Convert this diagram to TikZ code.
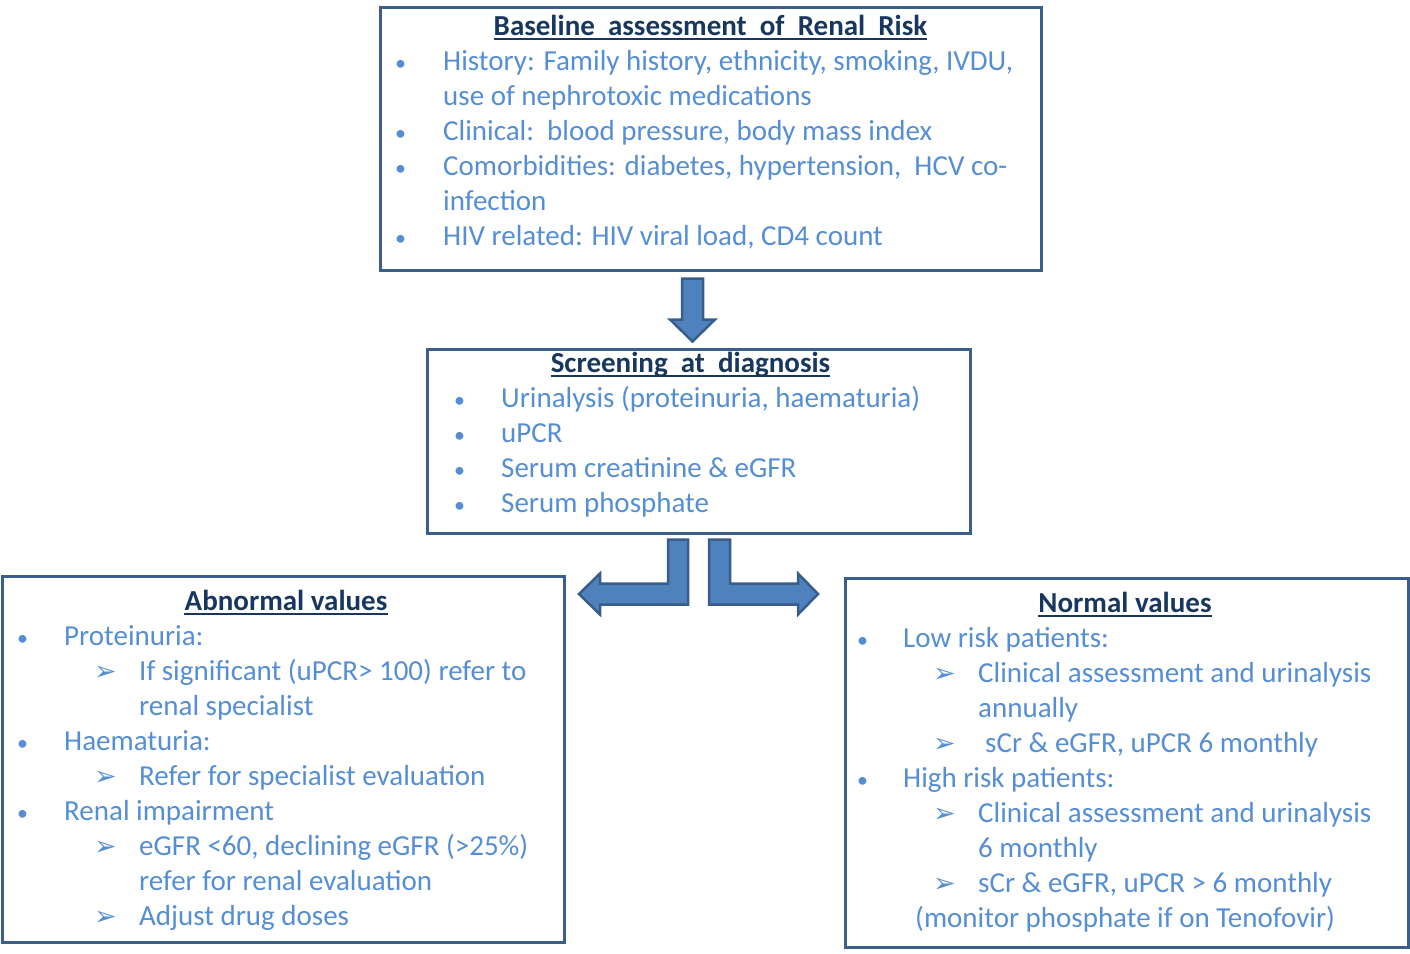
\documentclass[tikz,border=0pt]{standalone}
\usepackage{fontspec}
\setmainfont{Carlito}
\newfontfamily\dingfont{DejaVu Sans}
\usepackage{tikz}
\usetikzlibrary{calc}

\definecolor{boxline}{HTML}{3B5E8C}
\definecolor{bodyblue}{HTML}{558ED5}
\definecolor{headnavy}{HTML}{17375E}
\definecolor{arrowfill}{HTML}{4F81BD}
\definecolor{arrowline}{HTML}{385D8A}

\begin{document}
\begin{tikzpicture}[
        x=1pt, y=-1pt,
        panel/.style={rectangle, draw=boxline, line width=3pt, inner sep=0pt},
        head/.style={anchor=base, inner sep=0pt, text=headnavy, font=\fontsize{29}{35}\selectfont\bfseries},
        rule/.style={draw=headnavy, line width=2pt},
        txt/.style={anchor=base west, inner sep=0pt, text=bodyblue, font=\fontsize{29}{35}\selectfont},
        dot/.style={anchor=base west, inner sep=0pt, text=bodyblue, font=\fontsize{22}{26}\selectfont},
        tip/.style={anchor=base west, inner sep=0pt, text=bodyblue, font=\dingfont\fontsize{27}{30}\selectfont},
        blockarrow/.style={fill=arrowfill, draw=arrowline, line width=2.5pt, line join=miter}
    ]
        \useasboundingbox (0,0) rectangle (1410,953);

        % Boxes
        \node[panel, minimum width=661pt, minimum height=263pt] (base) at (710.5,138.5) {};
        \node[panel, minimum width=543pt, minimum height=184pt] (screen) at (698.5,441) {};
        \node[panel, minimum width=562pt, minimum height=366pt] (abnormal) at (283,759) {};
        \node[panel, minimum width=563pt, minimum height=369pt] (normal) at (1126.5,762.5) {};

        % Baseline assessment
        \node[head] (basehead) at (710.5,35) {Baseline\ \ assessment\ \ of\ \ Renal\ \ Risk};
        \node[dot] (b1) at (395,70) {•};
        \node[txt] (t1) at (443,70) {History: Family history, ethnicity, smoking, IVDU,};
        \node[txt] (t1b) at (443,105) {use of nephrotoxic medications};
        \node[dot] (b2) at (395,140) {•};
        \node[txt] (t2) at (443,140) {Clinical:\ \ blood pressure, body mass index};
        \node[dot] (b3) at (395,175) {•};
        \node[txt] (t3) at (443,175) {Comorbidities: diabetes, hypertension,\ \ HCV co-};
        \node[txt] (t3b) at (443,210) {infection};
        \node[dot] (b4) at (395,245) {•};
        \node[txt] (t4) at (443,245) {HIV related: HIV viral load, CD4 count};

        % Screening
        \node[head] (screenhead) at (690.5,372) {Screening\ \ at\ \ diagnosis};
        \node[dot] (s1) at (454,407) {•};
        \node[txt] (u1) at (501,407) {Urinalysis (proteinuria, haematuria)};
        \node[dot] (s2) at (454,442) {•};
        \node[txt] (u2) at (501,442) {uPCR};
        \node[dot] (s3) at (454,477) {•};
        \node[txt] (u3) at (501,477) {Serum creatinine \& eGFR};
        \node[dot] (s4) at (454,512) {•};
        \node[txt] (u4) at (501,512) {Serum phosphate};

        % Abnormal values
        \node[head] (abhead) at (286,610) {Abnormal values};
        \node[dot] (a1) at (17,645) {•};
        \node[txt] (p1) at (64,645) {Proteinuria:};
        \node[tip] (a1a) at (94,680) {➢};
        \node[txt] (p1a) at (139,680) {If significant (uPCR> 100) refer to};
        \node[txt] (p1b) at (139,715) {renal specialist};
        \node[dot] (a2) at (17,750) {•};
        \node[txt] (p2) at (64,750) {Haematuria:};
        \node[tip] (a2a) at (94,785) {➢};
        \node[txt] (p2a) at (139,785) {Refer for specialist evaluation};
        \node[dot] (a3) at (17,820) {•};
        \node[txt] (p3) at (64,820) {Renal impairment};
        \node[tip] (a3a) at (94,855) {➢};
        \node[txt] (p3a) at (139,855) {eGFR <60, declining eGFR (>25\%)};
        \node[txt] (p3b) at (139,890) {refer for renal evaluation};
        \node[tip] (a3c) at (94,925) {➢};
        \node[txt] (p3c) at (139,925) {Adjust drug doses};

        % Normal values
        \node[head] (nohead) at (1125,612) {Normal values};
        \node[dot] (n1) at (857,647) {•};
        \node[txt] (q1) at (903,647) {Low risk patients:};
        \node[tip] (n1a) at (933,682) {➢};
        \node[txt] (q1a) at (978,682) {Clinical assessment and urinalysis};
        \node[txt] (q1b) at (978,717) {annually};
        \node[tip] (n1c) at (933,752) {➢};
        \node[txt] (q1c) at (985,752) {sCr \& eGFR, uPCR 6 monthly};
        \node[dot] (n2) at (857,787) {•};
        \node[txt] (q2) at (903,787) {High risk patients:};
        \node[tip] (n2a) at (933,822) {➢};
        \node[txt] (q2a) at (978,822) {Clinical assessment and urinalysis};
        \node[txt] (q2b) at (978,857) {6 monthly};
        \node[tip] (n2c) at (933,892) {➢};
        \node[txt] (q2c) at (978,892) {sCr \& eGFR, uPCR > 6 monthly};
        \node[txt] (q2d) at (915,927) {(monitor phosphate if on Tenofovir)};

        % Heading underlines
        \foreach \h in {basehead, screenhead, abhead, nohead}
            \draw[rule] ($(\h.base west)+(0,4)$) -- ($(\h.base east)+(0,4)$);

        % Arrows
        \begin{scope}[shift={(base.south)}]
            \draw[blockarrow] (-28.5,7) -- (-7.5,7) -- (-7.5,48) -- (4.5,48) -- (-18,70)
                -- (-40.5,48) -- (-28.5,48) -- cycle;
        \end{scope}
        \begin{scope}[shift={(screen.south)}]
            \draw[blockarrow] (-10.5,5) -- (-10.5,70) -- (-98.5,70) -- (-98.5,80) -- (-119.5,59.5)
                -- (-98.5,39) -- (-98.5,49) -- (-30.5,49) -- (-30.5,5) -- cycle;
            \draw[blockarrow] (10.5,5) -- (10.5,70) -- (99.5,70) -- (99.5,80) -- (119.5,59.5)
                -- (99.5,39) -- (99.5,49) -- (31.5,49) -- (31.5,5) -- cycle;
        \end{scope}
    \end{tikzpicture}
\end{document}
